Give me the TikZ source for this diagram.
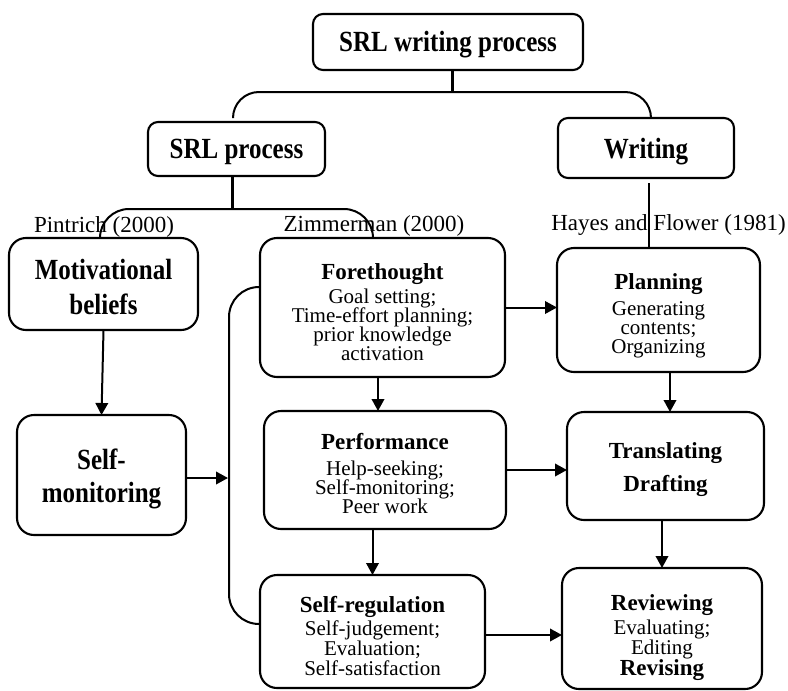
\documentclass[tikz,border=0pt]{standalone}
\usepackage{fontspec}
\setmainfont{Liberation Serif}
\usepackage{graphicx}
\usetikzlibrary{arrows.meta}
\newcommand\tl[1]{\scalebox{1}[1.17]{#1}}
\newcommand\bodyf{\fontsize{21}{19}\selectfont\lineskiplimit=-30pt\relax}
\newcommand\bigf{\bfseries\fontsize{25}{35}\selectfont\lineskiplimit=-30pt\relax}
\newcommand\hdf{\bfseries\fontsize{23}{19}\selectfont}
\newcommand\labf{\fontsize{23}{27}\selectfont}
\tikzset{
  box/.style={draw, line width=2.1pt, rounded corners=17pt, inner sep=0pt, outer sep=0pt},
  tbox/.style={box, rounded corners=10pt},
  txt/.style={align=center, inner sep=0pt},
  arr/.style={line width=2pt, -{Triangle[length=12pt,width=12.5pt]}},
  ln/.style={line width=2pt},
  thk/.style={line width=3pt},
  thn/.style={line width=1.4pt},
  lab/.style={font=\labf, inner sep=0pt, anchor=base},
}
\begin{document}
\begin{tikzpicture}[x=1pt,y=-1pt]
\useasboundingbox (0,0) rectangle (788,691);
% boxes
\node[tbox, minimum width=270pt, minimum height=56pt] (top) at (448,42) {};
\node[tbox, minimum width=177pt, minimum height=54pt] (srl) at (236.5,149) {};
\node[tbox, minimum width=176pt, minimum height=60pt] (wri) at (646,148) {};
\node[box, minimum width=189pt, minimum height=92pt] (mot) at (103.5,284) {};
\node[box, minimum width=245pt, minimum height=139pt] (fore) at (382.5,307.5) {};
\node[box, minimum width=203pt, minimum height=124pt] (plan) at (658.5,310) {};
\node[box, minimum width=169pt, minimum height=120pt] (smon) at (101.5,475) {};
\node[box, minimum width=242pt, minimum height=118pt] (perf) at (385,470) {};
\node[box, minimum width=197pt, minimum height=108pt] (tran) at (665.5,466) {};
\node[box, minimum width=225pt, minimum height=113pt] (sreg) at (372.5,631.5) {};
\node[box, minimum width=200pt, minimum height=121pt] (rev) at (662,628.5) {};
% box texts
\node[txt, font=\bigf] (topT) at ([yshift=-2.5pt]top.center) {\tl{SRL writing process}};
\node[txt, font=\bigf] (srlT) at ([yshift=-2.5pt]srl.center) {\tl{SRL process}};
\node[txt, font=\bigf] (wriT) at ([yshift=-3.5pt]wri.center) {\tl{Writing}};
\node[txt, font=\bigf] (motT) at ([yshift=-2.5pt]mot.center) {\tl{Motivational}\\\tl{beliefs}};
\node[txt, font=\bodyf] (foreT) at ([yshift=-4.5pt]fore.center) {{\hdf Forethought}\\[5pt]Goal setting;\\Time-effort planning;\\prior knowledge\\activation};
\node[txt, font=\bodyf] (planT) at ([yshift=-6pt]plan.center) {{\hdf Planning}\\[7pt]Generating\\contents;\\Organizing};
\node[txt, font=\bigf] (smonT) at ([yshift=-3.5pt]smon.center) {\tl{Self-}\\[-2pt]\tl{monitoring}};
\node[txt, font=\bodyf] (perfT) at ([yshift=-3pt]perf.center) {{\hdf Performance}\\[7pt]Help-seeking;\\Self-monitoring;\\Peer work};
\node[txt, font=\bodyf] (tranT) at ([yshift=-4pt]tran.center) {{\hdf Translating}\\[14pt]{\hdf Drafting}};
\node[txt, font=\bodyf] (sregT) at ([yshift=-4.5pt]sreg.center) {{\hdf Self-regulation}\\[4pt]Self-judgement;\\[1pt]Evaluation;\\[1pt]Self-satisfaction};
\node[txt, font=\bodyf] (revT) at ([yshift=-9pt]rev.center) {{\hdf Reviewing}\\[5pt]Evaluating;\\[1pt]Editing\\[2pt]{\hdf Revising}};
% labels
\node[lab] (pin) at (104,232) {Pintrich (2000)};
\node[lab] (zim) at (374,231) {Zimmerman (2000)};
\node[lab] (hay) at (668.5,230) {Hayes and Flower (1981)};
% top bracket
\coordinate (b1) at (452,92);
\coordinate (b1l) at (233,117);
\coordinate (b1r) at (651,117);
\draw[thk] (top.south -| b1) -- (b1);
\draw[ln, rounded corners=26pt] (b1l) -- (b1l |- b1) -- (b1r |- b1) -- (b1r);
% second bracket
\coordinate (b2) at (232,209);
\coordinate (b2l) at (100,238);
\coordinate (b2r) at (373,238);
\draw[thk] (srl.south -| b2) -- (b2);
\draw[ln, rounded corners=29pt] (b2l) -- (b2l |- b2) -- (b2r |- b2) -- (b2r);
% writing line
\coordinate (w1) at (649,183);
\draw[thn] (w1) -- (w1 |- plan.north);
% arrows
\draw[arr] (mot.south) -- (smon.north);
\draw[arr] (fore.east) -- (fore.east -| plan.west);
\draw[arr] ([xshift=-4.5pt]fore.south) -- ([xshift=-4.5pt]fore.south |- perf.north);
\draw[arr] ([xshift=11.5pt]plan.south) -- ([xshift=11.5pt]plan.south |- tran.north);
\draw[arr] (perf.east) -- (perf.east -| tran.west);
\draw[arr] (sreg.north |- perf.south) -- (sreg.north);
\draw[arr] (rev.north |- tran.south) -- (rev.north);
\draw[arr] ([yshift=-3.5pt]sreg.east) -- ([yshift=-3.5pt]sreg.east -| rev.west);
% left loop
\coordinate (vx) at (229,287);
\coordinate (sregin) at ([yshift=7.5pt]sreg.west);
\draw[ln, rounded corners=30pt] ([yshift=20.5pt]fore.west) -- (vx) -- (vx |- sregin) -- (sregin);
\coordinate (smt) at (228,478);
\draw[arr] (smon.east |- smt) -- (smt);
\end{tikzpicture}
\end{document}
